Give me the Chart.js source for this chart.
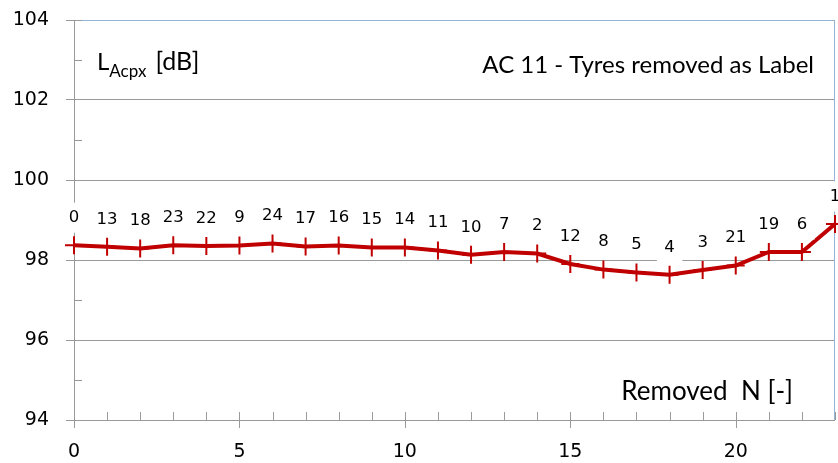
<!DOCTYPE html>
<html>
<head>
<meta charset="utf-8">
<script src="https://cdn.jsdelivr.net/npm/chart.js@4.4.1/dist/chart.umd.min.js"></script>
<style>
  html, body { margin: 0; padding: 0; background: #fff; }
</style>
</head>
<body>
<canvas id="chart" width="838" height="463"></canvas>
<script>
"use strict";

// number of tyres removed (x) and the resulting level
const removedN = [0, 1, 2, 3, 4, 5, 6, 7, 8, 9, 10, 11, 12, 13, 14, 15, 16, 17, 18, 19, 20, 21, 22, 23];
const levelDb = [98.37, 98.33, 98.29, 98.37, 98.35, 98.36, 98.41, 98.34, 98.36, 98.31, 98.31, 98.24,
                 98.13, 98.2, 98.16, 97.9, 97.76, 97.69, 97.63, 97.75, 97.86, 98.2, 98.2, 98.9];
// label of the tyre taken out at each step
const tyreLabels = ["0", "13", "18", "23", "22", "9", "24", "17", "16", "15", "14", "11",
                    "10", "7", "2", "12", "8", "5", "4", "3", "21", "19", "6", "1"];
const yTicks = [94, 96, 98, 100, 102, 104];
const xTicks = [0, 5, 10, 15, 20];

const RED = "#c00000";
const GRID = "#9a9a9a";
const FRAME = "#95b3d7";
const NUM_FONT = "'DejaVu Sans', sans-serif";
const TEXT_FONT = "Lato, 'Open Sans', sans-serif";

// tick marks, axis line extension and the blue plot frame
const axisMarks = {
  id: "axisMarks",
  beforeDatasetsDraw(chart) {
    const ctx = chart.ctx;
    const xs = chart.scales.x;
    const ys = chart.scales.y;
    const area = chart.chartArea;
    ctx.save();
    ctx.lineWidth = 1;
    ctx.strokeStyle = FRAME;
    ctx.beginPath();
    ctx.moveTo(area.left + 8, Math.round(area.top) + 0.5);
    ctx.lineTo(Math.round(area.right) - 0.5, Math.round(area.top) + 0.5);
    ctx.lineTo(Math.round(area.right) - 0.5, area.bottom);
    ctx.stroke();

    ctx.strokeStyle = GRID;
    ctx.beginPath();
    // y axis line runs a little below the x axis
    ctx.moveTo(Math.round(area.left) + 0.5, area.top);
    ctx.lineTo(Math.round(area.left) + 0.5, area.bottom + 8);
    // minor y ticks, inside
    for (let v = ys.min + 1; v < ys.max; v += 2) {
      const py = Math.round(ys.getPixelForValue(v)) + 0.5;
      ctx.moveTo(area.left, py);
      ctx.lineTo(area.left + 8, py);
    }
    // x ticks: every step inside, every 5 across the axis
    removedN.forEach(n => {
      const px = Math.round(xs.getPixelForValue(n)) + 0.5;
      const major = xTicks.includes(n);
      ctx.moveTo(px, area.bottom - 8);
      ctx.lineTo(px, area.bottom + (major ? 8 : 0));
    });
    ctx.stroke();
    ctx.restore();
  }
};

// tyre label above each point, on a white box
const pointLabels = {
  id: "pointLabels",
  afterDatasetsDraw(chart) {
    const ctx = chart.ctx;
    const meta = chart.getDatasetMeta(0);
    ctx.save();
    ctx.font = "16.5px " + NUM_FONT;
    ctx.textAlign = "center";
    ctx.textBaseline = "middle";
    meta.data.forEach((pt, i) => {
      const txt = tyreLabels[i];
      const cy = pt.y - 27.5;
      const w = ctx.measureText(txt).width + 15;
      ctx.fillStyle = "#fff";
      ctx.fillRect(pt.x - w / 2, cy - 15, w, 30);
      ctx.fillStyle = "#000";
      ctx.fillText(txt, pt.x, cy);
    });
    ctx.restore();
  }
};

// axis captions inside the plot
const captions = {
  id: "captions",
  afterDraw(chart) {
    const ctx = chart.ctx;
    const area = chart.chartArea;
    ctx.save();
    ctx.fillStyle = "#000";
    ctx.textBaseline = "alphabetic";
    ctx.textAlign = "left";
    ctx.font = "24px " + TEXT_FONT;
    ctx.fillText("L", area.left + 23, 70);
    let x = area.left + 23 + ctx.measureText("L").width;
    ctx.font = "17px " + TEXT_FONT;
    ctx.fillText("Acpx", x, 77);
    x += ctx.measureText("Acpx").width + 9;
    ctx.font = "25px " + TEXT_FONT;
    ctx.fillText("[dB]", x, 70);

    ctx.textAlign = "right";
    ctx.font = "24px " + TEXT_FONT;
    ctx.fillText("AC 11 - Tyres removed as Label", 814, 73);
    ctx.font = "26px " + TEXT_FONT;
    ctx.fillText("Removed  N [-]", 793, 400);
    ctx.restore();
  }
};

new Chart(document.getElementById("chart"), {
  type: "line",
  data: {
    datasets: [{
      data: removedN.map((n, i) => ({ x: n, y: levelDb[i] })),
      borderColor: RED,
      borderWidth: 4,
      pointStyle: "cross",
      pointRadius: 9,
      pointBorderWidth: 2,
      pointBorderColor: RED,
      pointBackgroundColor: RED,
      tension: 0,
      clip: false
    }]
  },
  options: {
    responsive: false,
    animation: false,
    events: [],
    layout: { autoPadding: false, padding: { top: 20, right: 3, left: 0, bottom: 0 } },
    plugins: { legend: { display: false }, tooltip: { enabled: false } },
    scales: {
      x: {
        type: "linear",
        min: 0,
        max: 23,
        afterFit(scale) { scale.height = 43; },
        afterBuildTicks(scale) { scale.ticks = xTicks.map(v => ({ value: v })); },
        grid: { display: false, drawTicks: false },
        border: { display: false },
        ticks: { padding: 21, color: "#000", font: { family: NUM_FONT, size: 19 }, maxRotation: 0 }
      },
      y: {
        min: 94,
        max: 104,
        afterFit(scale) { scale.width = 74; scale.paddingTop = 0; scale.paddingBottom = 0; },
        afterBuildTicks(scale) { scale.ticks = yTicks.map(v => ({ value: v })); },
        grid: { color: GRID, lineWidth: 1, drawTicks: true, tickLength: 8, tickColor: GRID },
        border: { display: true, color: GRID },
        ticks: { padding: 17, color: "#000", font: { family: NUM_FONT, size: 19 } }
      }
    }
  },
  plugins: [axisMarks, pointLabels, captions]
});
</script>
</body>
</html>
